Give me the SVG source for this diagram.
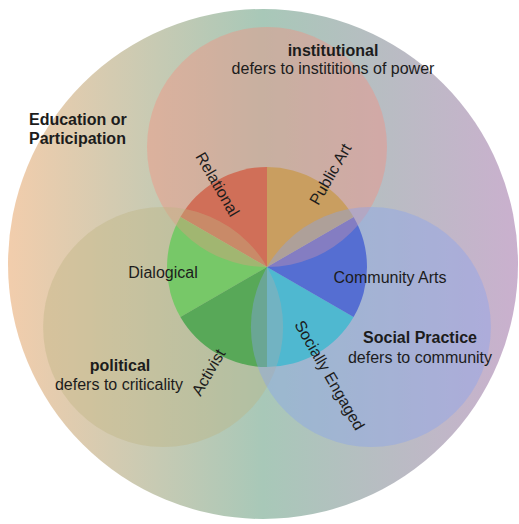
<svg xmlns="http://www.w3.org/2000/svg" width="519" height="524" viewBox="0 0 519 524">
<defs>
<linearGradient id="bg" x1="8" y1="0" x2="518" y2="0" gradientUnits="userSpaceOnUse">
<stop offset="0" stop-color="#f2cdac"/>
<stop offset="0.5" stop-color="#a8c8b8"/>
<stop offset="1" stop-color="#cab0ce"/>
</linearGradient>
</defs>
<style>
text{font-family:"Liberation Sans",Arial,sans-serif;font-size:16px;fill:#1c1c1c}
.b{font-weight:bold}
.m{text-anchor:middle}
.ov{opacity:0.4}
</style>
<rect width="519" height="524" fill="#ffffff"/>
<g id="outer">
<circle cx="263" cy="264" r="255" fill="url(#bg)"/>
<text class="b" x="29" y="125">Education or</text>
<text class="b" x="29" y="144">Participation</text>
</g>
<g id="pie">
<path id="relational-slice" d="M267,267 L267,167 A100,100 0 0 0 180.4,217 Z" fill="#b65d40"/>
<path id="dialogical-slice" d="M267,267 L180.4,217 A100,100 0 0 0 180.4,317 Z" fill="#49d557"/>
<path id="activist-slice" d="M267,267 L180.4,317 A100,100 0 0 0 267,367 Z" fill="#14a03c"/>
<path id="socially-slice" d="M267,267 L267,367 A100,100 0 0 0 353.6,317 Z" fill="#2bc6bb"/>
<path id="community-slice" d="M267,267 L353.6,317 A100,100 0 0 0 353.6,217 Z" fill="#344bbe"/>
<path id="public-slice" d="M267,267 L353.6,217 A100,100 0 0 0 267,167 Z" fill="#aaaa4e"/>
</g>
<g id="institutional">
<circle class="ov" cx="267" cy="147" r="120" fill="#f88c7c"/>
</g>
<g id="political">
<circle class="ov" cx="163.1" cy="327" r="120" fill="#beb582"/>
</g>
<g id="social-practice">
<circle class="ov" cx="370.9" cy="327" r="120" fill="#87a2f1"/>
</g>
<g id="labels">
<text class="b m" x="333" y="56">institutional</text>
<text class="m" x="333" y="74">defers to instititions of power</text>
<text class="b m" x="420" y="343">Social Practice</text>
<text class="m" x="420" y="363">defers to community</text>
<text class="b m" x="120" y="371">political</text>
<text class="m" x="119" y="390">defers to criticality</text>
<text class="m" x="163" y="278">Dialogical</text>
<text class="m" x="390" y="283">Community Arts</text>
<text class="m" transform="translate(218,184) rotate(60)" x="0" y="6">Relational</text>
<text class="m" transform="translate(330,174) rotate(-60)" x="0" y="6">Public Art</text>
<text class="m" transform="translate(208,372) rotate(-60)" x="0" y="6">Activist</text>
<text class="m" transform="translate(330,375) rotate(60)" x="0" y="6">Socially Engaged</text>
</g>
<g id="connectors"/>
</svg>
